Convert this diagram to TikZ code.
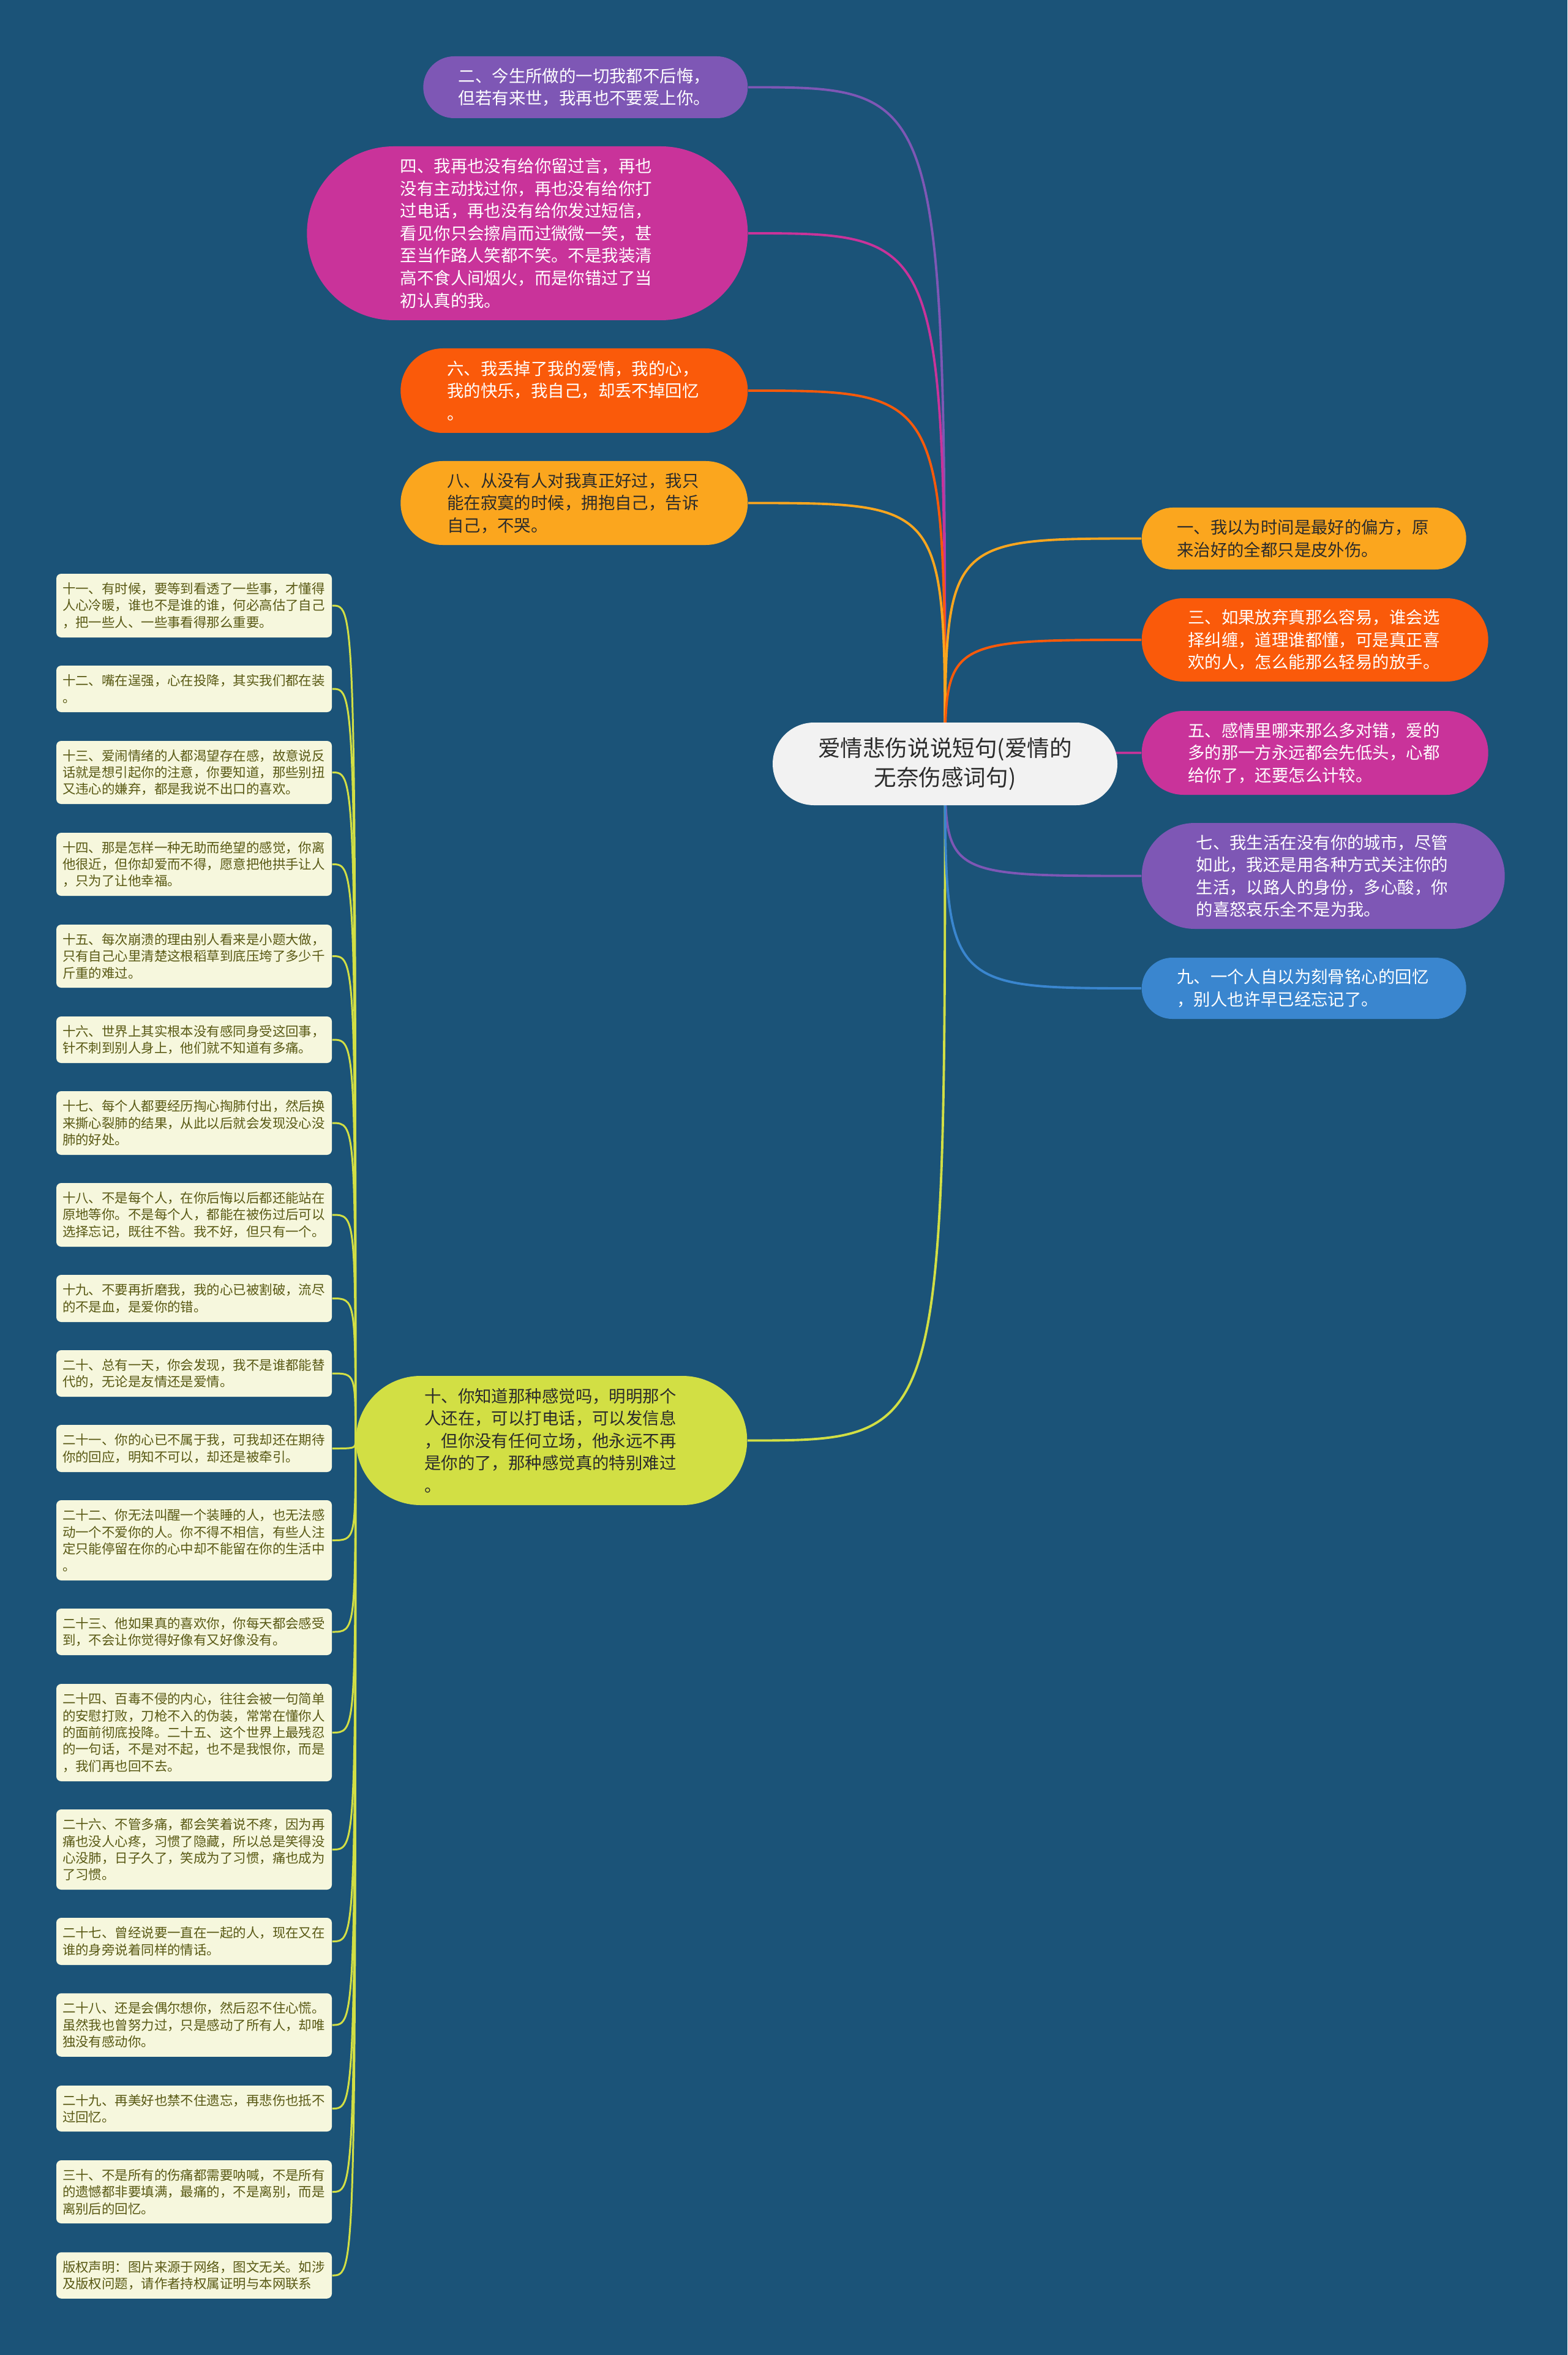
\documentclass[tikz,border=0pt]{standalone}
\usepackage{fontspec}
\setmainfont{Noto Sans CJK SC}
\usepackage{xcolor}
\usepackage{tikz}
\usetikzlibrary{shapes.misc, backgrounds}

\definecolor{bgblue}{HTML}{1B5378}
\definecolor{cpurple}{HTML}{7E57B5}
\definecolor{cmagenta}{HTML}{C9339A}
\definecolor{corange}{HTML}{FA5A0A}
\definecolor{camber}{HTML}{FBA61E}
\definecolor{cblue}{HTML}{3A86CF}
\definecolor{clime}{HTML}{D2DF44}
\definecolor{mainfill}{HTML}{F2F2F2}
\definecolor{leaffill}{HTML}{F6F7DD}
\definecolor{leaftext}{HTML}{595914}
\definecolor{darktext}{HTML}{2B2B2B}

\begin{document}
\begin{tikzpicture}[
  pill/.style={rounded rectangle, inner xsep=0pt, inner ysep=0pt, text=white,
               text width=4.15cm, align=left,
               font=\fontsize{7.8pt}{10.4pt}\selectfont},
  leaf/.style={rectangle, rounded corners=0.08cm, fill=leaffill, text=leaftext,
               minimum width=4.5cm, inner xsep=0pt, inner ysep=0pt,
               text width=4.3cm, align=left,
               font=\fontsize{6.1pt}{7.8pt}\selectfont},
  link/.style={line width=1.1pt},
  twig/.style={line width=0.85pt, draw=clime}
]
  % Canvas
  \begin{scope}[on background layer]
    \fill[bgblue] (0,0) rectangle (25.6,-38.46);
  \end{scope}
  \useasboundingbox (0,0) rectangle (25.6,-38.46);

  % Root
  \node[rounded rectangle, fill=mainfill, text=darktext, minimum width=5.63cm,
        minimum height=1.35cm, inner sep=0pt, align=center,
        font=\fontsize{10.4pt}{13.6pt}\selectfont] (main) at (15.435,-12.475)
        {爱情悲伤说说短句(爱情的\\无奈伤感词句)};

  % Left branches
  \node[pill, fill=cpurple, minimum width=5.3cm, minimum height=1.01cm, anchor=east]
        (n2) at (12.22,-1.425)
        {二、今生所做的一切我都不后悔，\\但若有来世，我再也不要爱上你。};
  \node[pill, fill=cmagenta, minimum width=7.2cm, minimum height=2.84cm, anchor=east]
        (n4) at (12.22,-3.81)
        {四、我再也没有给你留过言，再也\\没有主动找过你，再也没有给你打\\过电话，再也没有给你发过短信，\\看见你只会擦肩而过微微一笑，甚\\至当作路人笑都不笑。不是我装清\\高不食人间烟火，而是你错过了当\\初认真的我。};
  \node[pill, fill=corange, minimum width=5.67cm, minimum height=1.38cm, anchor=east]
        (n6) at (12.22,-6.38)
        {六、我丢掉了我的爱情，我的心，\\我的快乐，我自己，却丢不掉回忆\\。};
  \node[pill, fill=camber, text=darktext, minimum width=5.67cm, minimum height=1.37cm,
        anchor=east] (n8) at (12.22,-8.215)
        {八、从没有人对我真正好过，我只\\能在寂寞的时候，拥抱自己，告诉\\自己，不哭。};
  \node[pill, fill=clime, text=darktext, minimum width=6.39cm, minimum height=2.11cm,
        anchor=east] (n10) at (12.21,-23.525)
        {十、你知道那种感觉吗，明明那个\\人还在，可以打电话，可以发信息\\，但你没有任何立场，他永远不再\\是你的了，那种感觉真的特别难过\\。};

  % Right branches
  \node[pill, fill=camber, text=darktext, minimum width=5.3cm, minimum height=1.01cm,
        anchor=west] (n1) at (18.64,-8.795)
        {一、我以为时间是最好的偏方，原\\来治好的全都只是皮外伤。};
  \node[pill, fill=corange, minimum width=5.66cm, minimum height=1.36cm, anchor=west]
        (n3) at (18.64,-10.45)
        {三、如果放弃真那么容易，谁会选\\择纠缠，道理谁都懂，可是真正喜\\欢的人，怎么能那么轻易的放手。};
  \node[pill, fill=cmagenta, minimum width=5.66cm, minimum height=1.37cm, anchor=west]
        (n5) at (18.64,-12.295)
        {五、感情里哪来那么多对错，爱的\\多的那一方永远都会先低头，心都\\给你了，还要怎么计较。};
  \node[pill, fill=cpurple, minimum width=5.93cm, minimum height=1.73cm, anchor=west]
        (n7) at (18.64,-14.305)
        {七、我生活在没有你的城市，尽管\\如此，我还是用各种方式关注你的\\生活，以路人的身份，多心酸，你\\的喜怒哀乐全不是为我。};
  \node[pill, fill=cblue, minimum width=5.3cm, minimum height=1.0cm, anchor=west]
        (n9) at (18.64,-16.14)
        {九、一个人自以为刻骨铭心的回忆\\，别人也许早已经忘记了。};

  % Leaves of n10
  \node[leaf, minimum height=1.04cm] (t11) at (3.17,-9.89)
        {十一、有时候，要等到看透了一些事，才懂得\\人心冷暖，谁也不是谁的谁，何必高估了自己\\，把一些人、一些事看得那么重要。};
  \node[leaf, minimum height=0.76cm] (t12) at (3.17,-11.25)
        {十二、嘴在逞强，心在投降，其实我们都在装\\。};
  \node[leaf, minimum height=1.03cm] (t13) at (3.17,-12.615)
        {十三、爱闹情绪的人都渴望存在感，故意说反\\话就是想引起你的注意，你要知道，那些别扭\\又违心的嫌弃，都是我说不出口的喜欢。};
  \node[leaf, minimum height=1.03cm] (t14) at (3.17,-14.115)
        {十四、那是怎样一种无助而绝望的感觉，你离\\他很近，但你却爱而不得，愿意把他拱手让人\\，只为了让他幸福。};
  \node[leaf, minimum height=1.03cm] (t15) at (3.17,-15.615)
        {十五、每次崩溃的理由别人看来是小题大做，\\只有自己心里清楚这根稻草到底压垮了多少千\\斤重的难过。};
  \node[leaf, minimum height=0.76cm] (t16) at (3.17,-16.98)
        {十六、世界上其实根本没有感同身受这回事，\\针不刺到别人身上，他们就不知道有多痛。};
  \node[leaf, minimum height=1.04cm] (t17) at (3.17,-18.34)
        {十七、每个人都要经历掏心掏肺付出，然后换\\来撕心裂肺的结果，从此以后就会发现没心没\\肺的好处。};
  \node[leaf, minimum height=1.04cm] (t18) at (3.17,-19.84)
        {十八、不是每个人，在你后悔以后都还能站在\\原地等你。不是每个人，都能在被伤过后可以\\选择忘记，既往不咎。我不好，但只有一个。};
  \node[leaf, minimum height=0.77cm] (t19) at (3.17,-21.205)
        {十九、不要再折磨我，我的心已被割破，流尽\\的不是血，是爱你的错。};
  \node[leaf, minimum height=0.76cm] (t20) at (3.17,-22.43)
        {二十、总有一天，你会发现，我不是谁都能替\\代的，无论是友情还是爱情。};
  \node[leaf, minimum height=0.77cm] (t21) at (3.17,-23.655)
        {二十一、你的心已不属于我，可我却还在期待\\你的回应，明知不可以，却还是被牵引。};
  \node[leaf, minimum height=1.31cm] (t22) at (3.17,-25.155)
        {二十二、你无法叫醒一个装睡的人，也无法感\\动一个不爱你的人。你不得不相信，有些人注\\定只能停留在你的心中却不能留在你的生活中\\。};
  \node[leaf, minimum height=0.76cm] (t23) at (3.17,-26.65)
        {二十三、他如果真的喜欢你，你每天都会感受\\到，不会让你觉得好像有又好像没有。};
  \node[leaf, minimum height=1.59cm] (t24) at (3.17,-28.295)
        {二十四、百毒不侵的内心，往往会被一句简单\\的安慰打败，刀枪不入的伪装，常常在懂你人\\的面前彻底投降。二十五、这个世界上最残忍\\的一句话，不是对不起，也不是我恨你，而是\\，我们再也回不去。};
  \node[leaf, minimum height=1.31cm] (t26) at (3.17,-30.205)
        {二十六、不管多痛，都会笑着说不疼，因为再\\痛也没人心疼，习惯了隐藏，所以总是笑得没\\心没肺，日子久了，笑成为了习惯，痛也成为\\了习惯。};
  \node[leaf, minimum height=0.77cm] (t27) at (3.17,-31.705)
        {二十七、曾经说要一直在一起的人，现在又在\\谁的身旁说着同样的情话。};
  \node[leaf, minimum height=1.035cm] (t28) at (3.17,-33.07)
        {二十八、还是会偶尔想你，然后忍不住心慌。\\虽然我也曾努力过，只是感动了所有人，却唯\\独没有感动你。};
  \node[leaf, minimum height=0.75cm] (t29) at (3.17,-34.435)
        {二十九、再美好也禁不住遗忘，再悲伤也抵不\\过回忆。};
  \node[leaf, minimum height=1.03cm] (t30) at (3.17,-35.795)
        {三十、不是所有的伤痛都需要呐喊，不是所有\\的遗憾都非要填满，最痛的，不是离别，而是\\离别后的回忆。};
  \node[leaf, minimum height=0.755cm] (cr) at (3.17,-37.16)
        {版权声明：图片来源于网络，图文无关。如涉\\及版权问题，请作者持权属证明与本网联系};

  % Connectors
  \begin{scope}[on background layer]
    \draw[link, draw=cpurple] (main.center) .. controls (main.center |- n2.east) .. (n2.east);
    \draw[link, draw=cmagenta] (main.center) .. controls (main.center |- n4.east) .. (n4.east);
    \draw[link, draw=corange] (main.center) .. controls (main.center |- n6.east) .. (n6.east);
    \draw[link, draw=camber] (main.center) .. controls (main.center |- n8.east) .. (n8.east);
    \draw[link, draw=clime] (main.center) .. controls (main.center |- n10.east) .. (n10.east);
    \draw[link, draw=camber] (main.center) .. controls (main.center |- n1.west) .. (n1.west);
    \draw[link, draw=corange] (main.center) .. controls (main.center |- n3.west) .. (n3.west);
    \draw[link, draw=cmagenta] (main.center) .. controls (main.center |- n5.west) .. (n5.west);
    \draw[link, draw=cpurple] (main.center) .. controls (main.center |- n7.west) .. (n7.west);
    \draw[link, draw=cblue] (main.center) .. controls (main.center |- n9.west) .. (n9.west);

    \draw[twig] (n10.west) .. controls (n10.west |- t11.east) .. (t11.east);
    \draw[twig] (n10.west) .. controls (n10.west |- t12.east) .. (t12.east);
    \draw[twig] (n10.west) .. controls (n10.west |- t13.east) .. (t13.east);
    \draw[twig] (n10.west) .. controls (n10.west |- t14.east) .. (t14.east);
    \draw[twig] (n10.west) .. controls (n10.west |- t15.east) .. (t15.east);
    \draw[twig] (n10.west) .. controls (n10.west |- t16.east) .. (t16.east);
    \draw[twig] (n10.west) .. controls (n10.west |- t17.east) .. (t17.east);
    \draw[twig] (n10.west) .. controls (n10.west |- t18.east) .. (t18.east);
    \draw[twig] (n10.west) .. controls (n10.west |- t19.east) .. (t19.east);
    \draw[twig] (n10.west) .. controls (n10.west |- t20.east) .. (t20.east);
    \draw[twig] (n10.west) .. controls (n10.west |- t21.east) .. (t21.east);
    \draw[twig] (n10.west) .. controls (n10.west |- t22.east) .. (t22.east);
    \draw[twig] (n10.west) .. controls (n10.west |- t23.east) .. (t23.east);
    \draw[twig] (n10.west) .. controls (n10.west |- t24.east) .. (t24.east);
    \draw[twig] (n10.west) .. controls (n10.west |- t26.east) .. (t26.east);
    \draw[twig] (n10.west) .. controls (n10.west |- t27.east) .. (t27.east);
    \draw[twig] (n10.west) .. controls (n10.west |- t28.east) .. (t28.east);
    \draw[twig] (n10.west) .. controls (n10.west |- t29.east) .. (t29.east);
    \draw[twig] (n10.west) .. controls (n10.west |- t30.east) .. (t30.east);
    \draw[twig] (n10.west) .. controls (n10.west |- cr.east) .. (cr.east);
  \end{scope}
\end{tikzpicture}
\end{document}
